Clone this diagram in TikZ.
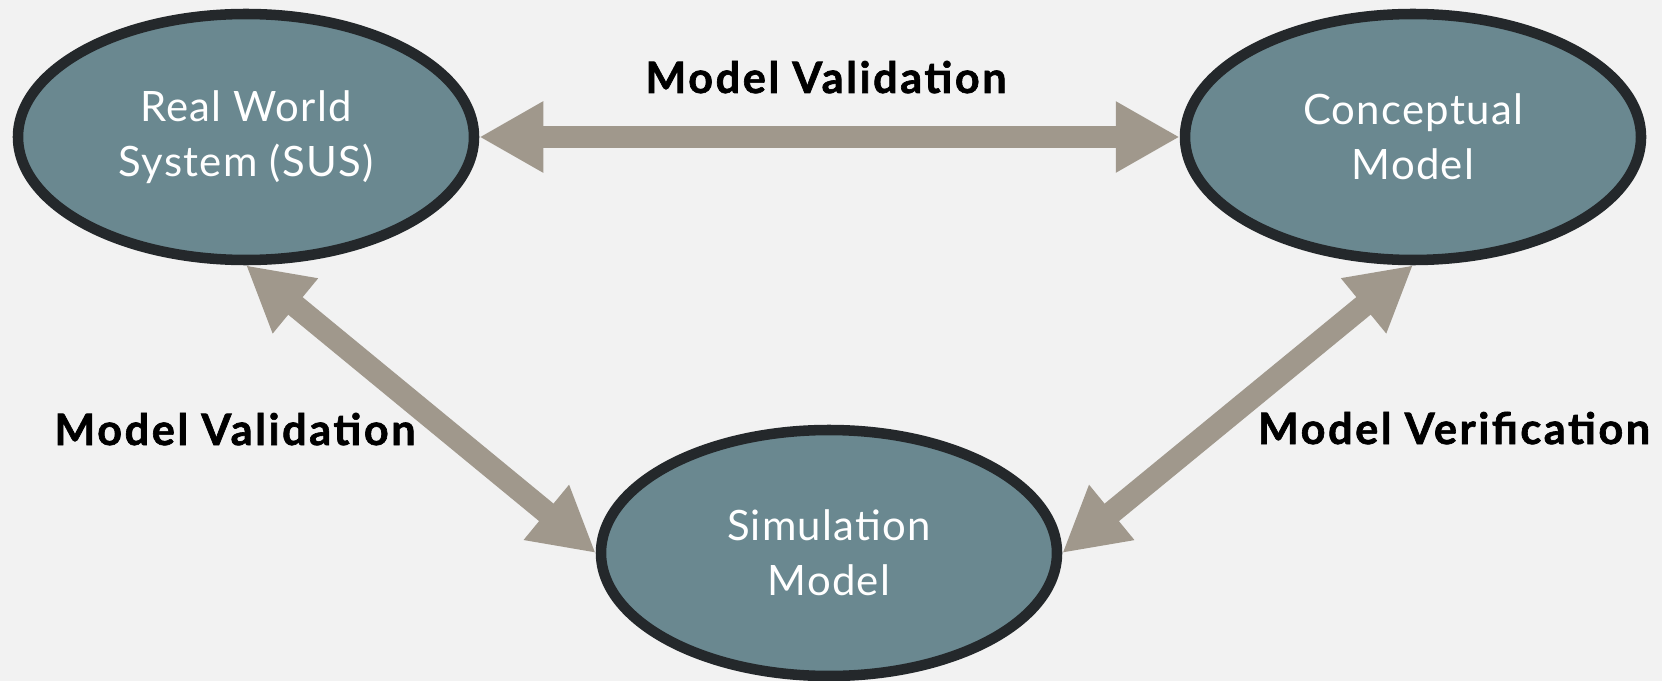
\documentclass[tikz,border=0pt]{standalone}
\usepackage{fontspec}
\setmainfont{Lato}
\usetikzlibrary{arrows.meta,shapes.geometric}

\definecolor{bgGray}{HTML}{F2F2F2}
\definecolor{ovalFill}{HTML}{6A8890}
\definecolor{ovalLine}{HTML}{24282B}
\definecolor{arrowTaupe}{HTML}{A0988C}

\tikzset{
  every picture/.style={line width=0.75pt},
  oval/.style={ellipse, draw=ovalLine, fill=ovalFill, line width=7.9pt,
    minimum width=342pt, minimum height=184.5pt, inner sep=0pt,
    align=center, text=white,
    font=\fontsize{31.4}{41}\selectfont\addfontfeatures{LetterSpace=3}},
  fatarrow/.style={draw=arrowTaupe, line width=17pt,
    {Triangle[length=48pt,width=50pt]}-{Triangle[length=48pt,width=50pt]}},
  arrowlabel/.style={anchor=base, inner sep=0pt,
    font=\fontsize{32.4}{38}\selectfont\bfseries\addfontfeatures{LetterSpace=6,FakeBold=1.5}},
}

\begin{document}
\begin{tikzpicture}[x=0.75pt,y=0.75pt,yscale=-1,xscale=1]
    % background, sets the page size
    \useasboundingbox (0,0) rectangle (1662,681);
    \fill[bgGray] (0,0) rectangle (1662,681);

    % Ellipses
    \node[oval] (real) at (246,137) {Real World\\System (SUS)};
    \node[oval] (concept) at (1413,137) {Conceptual\\Model};
    \node[oval] (sim) at (829,553) {Simulation\\Model};

    % Double arrows
    \draw[fatarrow] (real.east) -- (concept.west);
    \draw[fatarrow] (real.south) -- (sim.west);
    \draw[fatarrow] (sim.east) -- (concept.south);

    % Text Node
    \node[arrowlabel] (topLbl) at (826,93) {Model Validation};
    % Text Node
    \node[arrowlabel] (leftLbl) at (235,445) {Model Validation};
    % Text Node
    \node[arrowlabel] (rightLbl) at (1454,444) {Model Verification};

\end{tikzpicture}
\end{document}
